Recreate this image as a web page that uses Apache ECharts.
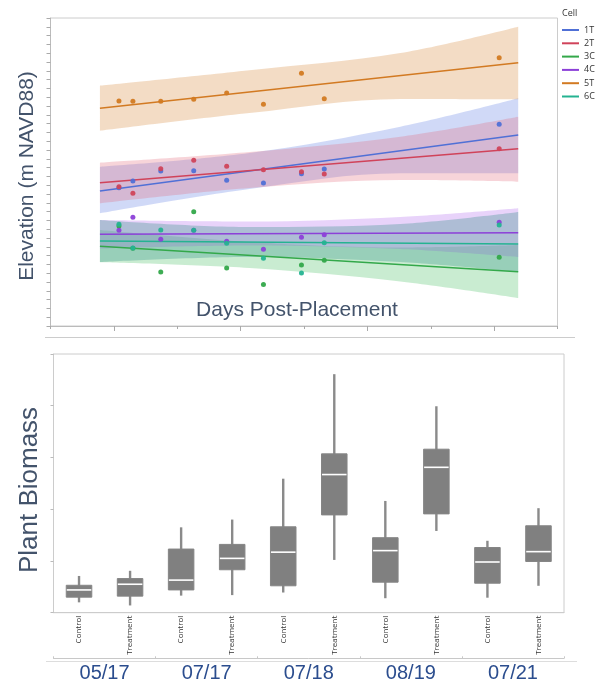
<!DOCTYPE html>
<html><head><meta charset="utf-8">
<script src="https://cdn.jsdelivr.net/npm/echarts@6/dist/echarts.min.js"></script>
<style>html,body{margin:0;padding:0;background:#fff}#c{width:602px;height:684px}</style>
</head><body><div id="c"></div><script>
// ---------- top chart data ----------
const cells = ['1T', '2T', '3C', '4C', '5T', '6C'];
const obsDays = [4, 15, 37, 63, 89, 118, 148, 166, 304];
const fitDays = [-11, 319];
const bandDays = [-11, 107, 226, 319];

const elev1T = [15.72, 16.48, 17.61, 17.65, 16.56, 16.25, 17.31, 17.84, 22.92];
const elev2T = [15.83, 15.08, 17.88, 18.83, 18.15, 17.76, 17.53, 17.27, 20.15];
const elev3C = [11.36, 8.83, 6.14, 12.99, 6.59, 4.72, 6.93, 7.47, 7.81];
const elev4C = [10.88, 12.35, 9.85, 10.88, 9.63, 8.72, 10.09, 10.38, 11.78];
const elev5T = [25.57, 25.53, 25.53, 25.76, 26.48, 25.19, 28.72, 25.83, 30.49];
const elev6C = [11.56, 8.86, 10.91, 10.88, 9.40, 7.69, 6.02, 9.47, 11.48];

const fit1T = [15.34, 21.70];
const fit2T = [16.28, 20.15];
const fit3C = [9.06, 6.17];
const fit4C = [10.42, 10.60];
const fit5T = [24.74, 29.92];
const fit6C = [9.66, 9.32];

const upper1T = [18.10, 19.66, 22.65, 25.88];
const lower1T = [12.81, 15.57, 17.35, 17.35];
const upper2T = [18.56, 19.77, 21.51, 23.78];
const lower2T = [13.94, 15.68, 16.59, 16.40];
const upper3C = [10.91, 9.55, 8.92, 9.20];
const lower3C = [7.24, 6.59, 5.06, 3.18];
const upper4C = [12.05, 11.88, 12.39, 13.38];
const lower4C = [8.80, 9.15, 8.75, 7.84];
const upper5T = [27.31, 29.06, 31.02, 34.01];
const lower5T = [22.19, 24.20, 25.80, 25.76];
const upper6C = [12.05, 11.25, 11.59, 12.95];
const lower6C = [7.27, 7.84, 7.27, 6.14];

// ---------- bottom chart data ----------
const dates = ['05/17', '07/17', '07/18', '08/19', '07/21'];
const groups = ['Control', 'Treatment'];
const whiskerLow  = [0.20, 0.14, 0.33, 0.34, 0.39, 1.02, 0.28, 1.58, 0.29, 0.52];
const q1          = [0.30, 0.32, 0.44, 0.83, 0.52, 1.89, 0.59, 1.91, 0.57, 0.99];
const median      = [0.44, 0.55, 0.63, 1.05, 1.17, 2.67, 1.20, 2.81, 0.98, 1.18];
const q3          = [0.53, 0.66, 1.23, 1.32, 1.66, 3.07, 1.45, 3.16, 1.26, 1.68];
const whiskerHigh = [0.71, 0.81, 1.65, 1.80, 2.59, 4.61, 2.16, 3.99, 1.39, 2.02];

// ---------- styles ----------
const lineColors = {'1T':'#5070d6','2T':'#d0435a','3C':'#33a84a','4C':'#8c40d8','5T':'#d27a22','6C':'#24b391'};
const bandColors = {'1T':'rgba(100,130,230,0.30)','2T':'rgba(225,100,120,0.28)','3C':'rgba(60,185,90,0.28)',
                    '4C':'rgba(190,130,240,0.35)','5T':'rgba(220,150,80,0.33)','6C':'rgba(40,140,130,0.30)'};
const dataByCell = {
  '1T': {elev: elev1T, fit: fit1T, up: upper1T, lo: lower1T},
  '2T': {elev: elev2T, fit: fit2T, up: upper2T, lo: lower2T},
  '3C': {elev: elev3C, fit: fit3C, up: upper3C, lo: lower3C},
  '4C': {elev: elev4C, fit: fit4C, up: upper4C, lo: lower4C},
  '5T': {elev: elev5T, fit: fit5T, up: upper5T, lo: lower5T},
  '6C': {elev: elev6C, fit: fit6C, up: upper6C, lo: lower6C}
};

const series = [];
// confidence bands: stacked areas; elevation stored first so it is the stacked dimension
cells.forEach(c => {
  const d = dataByCell[c];
  series.push({
    name: c + ' lo', type: 'line', xAxisIndex: 0, yAxisIndex: 0, stack: 'band' + c,
    dimensions: ['elev', 'day'], encode: {x: 'day', y: 'elev'},
    data: bandDays.map((x, i) => [d.lo[i], x]), smooth: 0.35, symbol: 'none',
    lineStyle: {opacity: 0}, silent: true, z: 1
  });
  series.push({
    name: c + ' band', type: 'line', xAxisIndex: 0, yAxisIndex: 0, stack: 'band' + c,
    dimensions: ['elev', 'day'], encode: {x: 'day', y: 'elev'},
    data: bandDays.map((x, i) => [d.up[i] - d.lo[i], x]), smooth: 0.35, symbol: 'none',
    lineStyle: {opacity: 0}, areaStyle: {color: bandColors[c], opacity: 1}, silent: true, z: 1
  });
});
cells.forEach(c => {
  const d = dataByCell[c];
  series.push({
    name: c, type: 'line', xAxisIndex: 0, yAxisIndex: 0,
    data: fitDays.map((x, i) => [x, d.fit[i]]), symbol: 'none',
    lineStyle: {color: lineColors[c], width: 1.6}, itemStyle: {color: lineColors[c]}, z: 3
  });
});
cells.forEach(c => {
  const d = dataByCell[c];
  series.push({
    name: c + ' obs', type: 'scatter', xAxisIndex: 0, yAxisIndex: 0,
    data: obsDays.map((x, i) => [x, d.elev[i]]), symbolSize: 5,
    itemStyle: {color: lineColors[c], opacity: 0.95}, z: 4
  });
});

// box plot
const boxCats = [];
dates.forEach(dt => groups.forEach(g => boxCats.push(g + '|' + dt)));
series.push({
  type: 'custom', xAxisIndex: 2, yAxisIndex: 1,
  data: boxCats.map((c, i) => [i, whiskerLow[i], q1[i], median[i], q3[i], whiskerHigh[i]]),
  renderItem: function (params, api) {
    const x = api.value(0);
    const lo = api.coord([x, api.value(1)]);
    const b1 = api.coord([x, api.value(2)]);
    const md = api.coord([x, api.value(3)]);
    const b3 = api.coord([x, api.value(4)]);
    const hi = api.coord([x, api.value(5)]);
    const w = api.size([1, 0])[0] * 0.5;
    return {
      type: 'group', children: [
        {type: 'line', shape: {x1: lo[0], y1: lo[1], x2: hi[0], y2: hi[1]}, style: {stroke: '#8a8a8a', lineWidth: 2.4}},
        {type: 'rect', shape: {x: lo[0] - w / 2, y: b3[1], width: w, height: b1[1] - b3[1]}, style: {fill: '#808080', stroke: '#858585', lineWidth: 1}},
        {type: 'line', shape: {x1: lo[0] - w / 2 + 0.5, y1: md[1], x2: lo[0] + w / 2 - 0.5, y2: md[1]}, style: {stroke: '#ffffff', lineWidth: 1.6}}
      ]
    };
  },
  z: 3
});

const chart = echarts.init(document.getElementById('c'), null, {renderer: 'canvas'});
const titleFont = 'Liberation Sans, Arial, sans-serif';
chart.setOption({
  animation: false,
  backgroundColor: '#ffffff',
  grid: [
    {left: 50.5, top: 18, width: 507, height: 308, show: true, borderColor: '#cccccc', borderWidth: 1, containLabel: false},
    {left: 53.5, top: 354, width: 510.5, height: 258.7, show: true, borderColor: '#cccccc', borderWidth: 1, containLabel: false}
  ],
  legend: {
    data: cells, orient: 'vertical', left: 562, top: 24, padding: 0,
    icon: 'rect', itemWidth: 17, itemHeight: 2, itemGap: 1.3, selectedMode: false,
    textStyle: {fontSize: 9, lineHeight: 12, color: '#333', fontFamily: 'Open Sans, sans-serif'}
  },
  xAxis: [
    {gridIndex: 0, type: 'value', min: -50, max: 350, interval: 50,
     axisLine: {show: true, onZero: false, lineStyle: {color: '#bbbbbb'}},
     axisTick: {show: true, length: 3, lineStyle: {color: '#aaaaaa'}},
     axisLabel: {show: false}, splitLine: {show: false}},
    {gridIndex: 0, type: 'value', min: -50, max: 350, position: 'bottom',
     axisLine: {show: false, onZero: false},
     axisTick: {show: true, length: 5, customValues: [0, 100, 200, 300], lineStyle: {color: '#aaaaaa'}},
     axisLabel: {show: false}, splitLine: {show: false}},
    {gridIndex: 1, type: 'category', data: boxCats, boundaryGap: true,
     axisLine: {show: true, onZero: false, lineStyle: {color: '#cccccc'}},
     axisTick: {show: false},
     axisLabel: {interval: 0, rotate: 90, fontSize: 8, margin: 3, color: '#333', fontFamily: 'Open Sans, sans-serif',
                 formatter: v => v.split('|')[0]},
     splitLine: {show: false}},
    {gridIndex: 1, type: 'category', data: dates, position: 'bottom', offset: 45.6, boundaryGap: true,
     axisLine: {show: true, onZero: false, lineStyle: {color: '#c8c8c8', width: 1}},
     axisTick: {show: true, inside: true, length: 2, interval: 0, lineStyle: {color: '#c8c8c8'}},
     axisLabel: {interval: 0, fontSize: 20, margin: 5, color: '#2b4d8e', fontFamily: titleFont},
     splitLine: {show: false}}
  ],
  yAxis: [
    {gridIndex: 0, type: 'value', min: 0, max: 35, interval: 1,
     axisLine: {show: true, onZero: false, lineStyle: {color: '#bbbbbb'}},
     axisTick: {show: true, length: 4, lineStyle: {color: '#aaaaaa'}},
     axisLabel: {show: false}, splitLine: {show: false}},
    {gridIndex: 1, type: 'value', min: 0, max: 5, interval: 1,
     axisLine: {show: true, onZero: false, lineStyle: {color: '#cccccc'}},
     axisTick: {show: true, length: 3, lineStyle: {color: '#bbbbbb'}},
     axisLabel: {show: false}, splitLine: {show: false}}
  ],
  graphic: [
    {type: 'text', left: 562, top: 9, style: {text: 'Cell', fontSize: 9, fill: '#333', fontFamily: 'Open Sans, sans-serif'}},
    {type: 'text', x: 27, y: 176, rotation: Math.PI / 2,
     style: {text: 'Elevation (m NAVD88)', fontSize: 21, fill: '#43536b', fontFamily: titleFont, align: 'center', verticalAlign: 'middle'}},
    {type: 'text', x: 297, y: 310,
     style: {text: 'Days Post-Placement', fontSize: 21, fill: '#43536b', fontFamily: titleFont, align: 'center', verticalAlign: 'middle'}},
    {type: 'line', shape: {x1: 45, y1: 337.5, x2: 575, y2: 337.5}, style: {stroke: '#cccccc', lineWidth: 1}},
    {type: 'line', shape: {x1: 46, y1: 661.5, x2: 577, y2: 661.5}, style: {stroke: '#dddddd', lineWidth: 1}},
    {type: 'text', x: 30, y: 490, rotation: Math.PI / 2,
     style: {text: 'Plant Biomass', fontSize: 26, fill: '#43536b', fontFamily: titleFont, align: 'center', verticalAlign: 'middle'}}
  ],
  series: series
});
</script></body></html>
